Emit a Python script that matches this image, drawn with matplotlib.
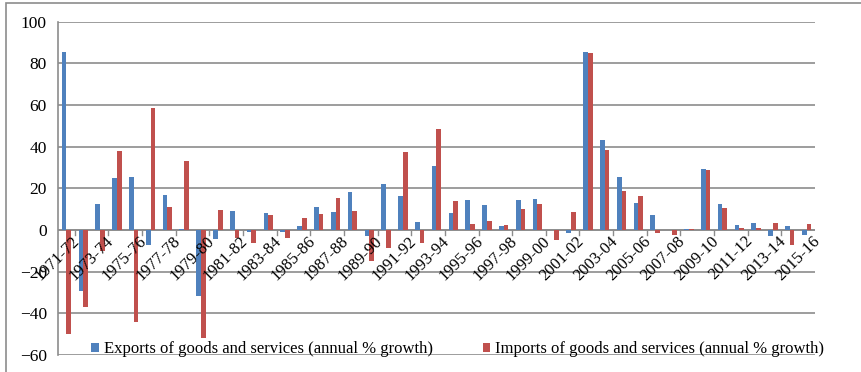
import numpy as np
import matplotlib
matplotlib.use("Agg")
import matplotlib.pyplot as plt
from matplotlib.patches import Rectangle

# financial years 1971-72 ... 2015-16
years = [f"{y}-{str(y + 1)[-2:]}" for y in range(1971, 2016)]

exports = [85.6, -29.2, 12.3, 24.7, 25.5, -7.2, 16.6, 0.5, -31.8, -4.5,
           9.0, -0.8, 8.0, -1.0, 2.1, 11.0, 8.7, 18.2, -3.0, 21.8,
           16.3, 4.0, 30.9, 8.1, 14.4, 12.0, 1.9, 14.4, 14.7, 0.0,
           -1.6, 85.6, 43.0, 25.5, 13.1, 7.0, 0.0, 0.6, 29.2, 12.4,
           2.4, 3.2, -2.9, 1.9, -2.2]
imports = [-49.9, -36.8, -10.3, 37.8, -44.3, 58.4, 11.0, 33.3, -52.0, 9.5,
           -3.7, -6.1, 7.3, -3.8, 5.6, 7.5, 15.1, 9.3, -15.0, -8.9,
           37.5, -6.4, 48.6, 13.9, 2.7, 4.1, 2.4, 10.0, 12.4, -4.6,
           8.8, 84.9, 38.3, 18.5, 16.3, -1.6, -2.5, 0.6, 28.7, 10.4,
           1.1, 1.1, 3.2, -7.2, 2.7]

series_names = ["Exports of goods and services (annual % growth)",
                "Imports of goods and services (annual % growth)"]

plt.rcParams['font.family'] = ['Liberation Serif', 'DejaVu Serif']

fig = plt.figure(figsize=(8.62, 3.72), dpi=100)
ax = fig.add_axes([58 / 862, 1 - 355 / 372, (815 - 58) / 862, (355 - 21.5) / 372])

# chart area border (only top/left visible in the reference)
fig.patches.append(Rectangle((6 / 862, -0.1), 1.2, (372 - 3) / 372 + 0.1,
                             transform=fig.transFigure, fill=False,
                             edgecolor='#8c8c8c', linewidth=1.2))

x = np.arange(len(years))
w = 0.28
ax.bar(x - w / 2, exports, width=w, color='#4F81BD', label=series_names[0], zorder=3)
ax.bar(x + w / 2, imports, width=w, color='#C0504D', label=series_names[1], zorder=3)

ax.set_xlim(-0.5, len(years) - 0.5)
ax.set_ylim(-60, 100)
ax.set_yticks(np.arange(-60, 101, 20))
ax.yaxis.grid(True, color='#8c8c8c', linewidth=1.2, zorder=0)
ax.tick_params(axis='y', length=0, labelsize=12.5, pad=8)

for s in ['top', 'right', 'bottom']:
    ax.spines[s].set_visible(False)
ax.spines['left'].set_color('#8c8c8c')
ax.spines['left'].set_linewidth(1.2)

# zero line with tick marks
ax.axhline(0, color='#8c8c8c', linewidth=1.2, zorder=2)
for k in range(1, len(years), 2):
    ax.plot([k - 0.5, k - 0.5], [0, -2.2], color='#8c8c8c', linewidth=1.0, zorder=2)

ax.set_xticks([])
for i in range(0, len(years), 2):
    ax.text(i + 0.3, -1.5, years[i], rotation=45, ha='right', va='top',
            rotation_mode='anchor', fontsize=12, zorder=4)

ax.legend(loc='lower left', bbox_to_anchor=(0.035, -0.026), ncol=2, frameon=False,
          fontsize=12, handlelength=0.45, handleheight=0.45, handletextpad=0.3,
          columnspacing=3.0, borderaxespad=0.0)

fig.savefig("out.png", dpi=100)
